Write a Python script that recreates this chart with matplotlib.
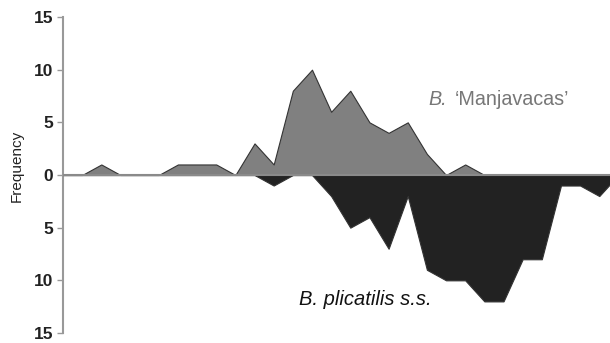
import numpy as np
import matplotlib
matplotlib.use("Agg")
import matplotlib.pyplot as plt

plt.rcParams['font.family'] = ['Liberation Sans', 'DejaVu Sans']

# size classes along x (index), frequency per species
x_idx = list(range(30))
manjavacas = [0, 0, 1, 0, 0, 0, 1, 1, 1, 0, 3, 1, 8, 10, 6, 8, 5, 4, 5, 2,
              0, 1, 0, 0, 0, 0, 0, 0, 0, 0]
plicatilis = [0, 0, 0, 0, 0, 0, 0, 0, 0, 0, 0, 1, 0, 0, 2, 5, 4, 7, 2, 9,
              10, 10, 12, 12, 8, 8, 1, 1, 2, 0]

ytick_vals = [-15, -10, -5, 0, 5, 10, 15]
ytick_labels = ['15', '10', '5', '0', '5', '10', '15']

fig = plt.figure(figsize=(6.10, 3.43), dpi=100)
ax = fig.add_axes([63/610, 10/343, 1 - 63/610, 316/343])

x = np.array(x_idx)
up = np.array(manjavacas)
down = -np.array(plicatilis)

ax.fill_between(x, 0, down, color='#222222', edgecolor='#333333', lw=0.8, zorder=2)
ax.fill_between(x, 0, up, color='#808080', edgecolor='#333333', lw=0.8, zorder=3)
ax.axhline(0, color='#8a8a8a', lw=1.5, zorder=4)

ax.set_xlim(0, 28.56)
ax.set_ylim(-15, 15)
ax.set_yticks(ytick_vals)
ax.set_yticklabels(ytick_labels, fontsize=12.5, fontweight='bold', color='#222222')
ax.set_xticks([])
ax.tick_params(axis='y', length=4, width=1, color='#999999', pad=3)

for s in ['top', 'right', 'bottom']:
    ax.spines[s].set_visible(False)
ax.spines['left'].set_color('#999999')
ax.spines['left'].set_linewidth(1.5)

ax.set_ylabel('Frequency', fontsize=11, color='#222222')
ax.yaxis.set_label_coords(-0.072, 0.53)

ax.text(19.1, 7.2, 'B.', fontsize=14.2, style='italic', color='#777777', ha='left', va='center')
ax.text(20.45, 7.2, '\u2018Manjavacas\u2019', fontsize=14.2, color='#777777', ha='left', va='center')
ax.text(12.3, -11.8, 'B. plicatilis s.s.', fontsize=14.5, style='italic', color='#111111',
        ha='left', va='center')

fig.savefig('out.png', dpi=100)
